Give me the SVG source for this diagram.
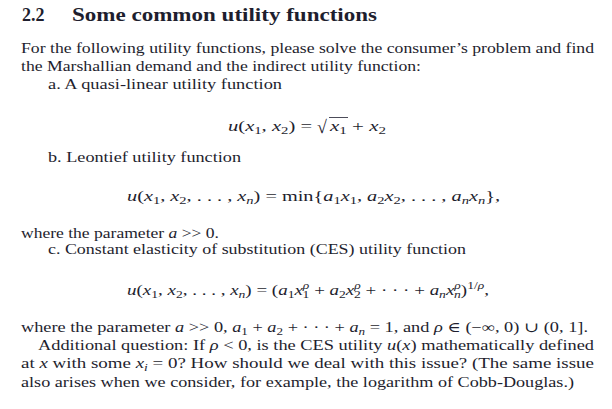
<svg xmlns="http://www.w3.org/2000/svg" width="612" height="409" viewBox="0 0 612 409">
<style>
text{font-family:"Liberation Serif","DejaVu Serif",serif;font-size:14px;fill:#1e1e2e}
.h{font-weight:bold;font-size:18px}
.i{font-style:italic}
.s{font-size:10px}
</style>
<rect width="612" height="409" fill="#fff"/>
<text class="h" x="22" y="21">2.2</text>
<text class="h" x="72" y="21" textLength="305" lengthAdjust="spacingAndGlyphs">Some common utility functions</text>
<text x="21" y="53" textLength="573" lengthAdjust="spacingAndGlyphs">For the following utility functions, please solve the consumer’s problem and find</text>
<text x="21" y="71" textLength="400" lengthAdjust="spacingAndGlyphs">the Marshallian demand and the indirect utility function:</text>
<text x="48" y="89" textLength="234" lengthAdjust="spacingAndGlyphs">a. A quasi-linear utility function</text>
<text x="228" y="131" style="font-size:14px" textLength="84" lengthAdjust="spacingAndGlyphs"><tspan class="i">u</tspan>(<tspan class="i">x</tspan><tspan class="s" dy="3">1</tspan><tspan dy="-3">, </tspan><tspan class="i">x</tspan><tspan class="s" dy="3">2</tspan><tspan dy="-3">) =</tspan></text>
<text x="317" y="133" style="font-size:18px">√</text>
<line x1="329" y1="117.5" x2="348" y2="117.5" stroke="#1e1e2e" stroke-width="0.8"/>
<text x="330" y="131" style="font-size:14px" textLength="56" lengthAdjust="spacingAndGlyphs"><tspan class="i">x</tspan><tspan class="s" dy="3">1</tspan><tspan dy="-3"> + </tspan><tspan class="i">x</tspan><tspan class="s" dy="3">2</tspan></text>
<text x="48" y="162" textLength="193" lengthAdjust="spacingAndGlyphs">b. Leontief utility function</text>
<text x="127" y="201" textLength="373" lengthAdjust="spacingAndGlyphs"><tspan class="i">u</tspan>(<tspan class="i">x</tspan><tspan class="s" dy="3">1</tspan><tspan dy="-3">, </tspan><tspan class="i">x</tspan><tspan class="s" dy="3">2</tspan><tspan dy="-3">, . . . , </tspan><tspan class="i">x<tspan class="s" dy="3">n</tspan></tspan><tspan dy="-3">) = min{</tspan><tspan class="i">a</tspan><tspan class="s" dy="3">1</tspan><tspan class="i" dy="-3">x</tspan><tspan class="s" dy="3">1</tspan><tspan dy="-3">, </tspan><tspan class="i">a</tspan><tspan class="s" dy="3">2</tspan><tspan class="i" dy="-3">x</tspan><tspan class="s" dy="3">2</tspan><tspan dy="-3">, . . . , </tspan><tspan class="i">a<tspan class="s" dy="3">n</tspan></tspan><tspan class="i" dy="-3">x<tspan class="s" dy="3">n</tspan></tspan><tspan dy="-3">},</tspan></text>
<text x="21" y="238" textLength="198" lengthAdjust="spacingAndGlyphs">where the parameter <tspan class="i">a</tspan> &gt;&gt; 0.</text>
<text x="48" y="254" textLength="418" lengthAdjust="spacingAndGlyphs">c. Constant elasticity of substitution (CES) utility function</text>
<text x="127" y="295" textLength="362" lengthAdjust="spacingAndGlyphs"><tspan class="i">u</tspan>(<tspan class="i">x</tspan><tspan class="s" dy="3">1</tspan><tspan dy="-3">, </tspan><tspan class="i">x</tspan><tspan class="s" dy="3">2</tspan><tspan dy="-3">, . . . , </tspan><tspan class="i">x<tspan class="s" dy="3">n</tspan></tspan><tspan dy="-3">) = (</tspan><tspan class="i">a</tspan><tspan class="s" dy="3">1</tspan><tspan class="i" dy="-3">x</tspan><tspan class="s i" dy="-6">ρ</tspan><tspan class="s" dx="-5" dy="9">1</tspan><tspan dy="-3"> + </tspan><tspan class="i">a</tspan><tspan class="s" dy="3">2</tspan><tspan class="i" dy="-3">x</tspan><tspan class="s i" dy="-6">ρ</tspan><tspan class="s" dx="-5" dy="9">2</tspan><tspan dy="-3"> + · · · + </tspan><tspan class="i">a<tspan class="s" dy="3">n</tspan></tspan><tspan class="i" dy="-3">x</tspan><tspan class="s i" dy="-6">ρ</tspan><tspan class="s i" dx="-5" dy="9">n</tspan><tspan dy="-3">)</tspan><tspan class="s" dy="-6">1/<tspan class="i">ρ</tspan></tspan><tspan dy="6">,</tspan></text>
<text x="21" y="332" textLength="567" lengthAdjust="spacingAndGlyphs">where the parameter <tspan class="i">a</tspan> &gt;&gt; 0, <tspan class="i">a</tspan><tspan class="s" dy="3">1</tspan><tspan dy="-3"> + </tspan><tspan class="i">a</tspan><tspan class="s" dy="3">2</tspan><tspan dy="-3"> + · · · + </tspan><tspan class="i">a<tspan class="s" dy="3">n</tspan></tspan><tspan dy="-3"> = 1, and </tspan><tspan class="i">ρ</tspan> ∈ (−∞, 0) ∪ (0, 1].</text>
<text x="38" y="350" textLength="556" lengthAdjust="spacingAndGlyphs">Additional question: If <tspan class="i">ρ</tspan> &lt; 0, is the CES utility <tspan class="i">u</tspan>(<tspan class="i">x</tspan>) mathematically defined</text>
<text x="21" y="368" textLength="573" lengthAdjust="spacingAndGlyphs">at <tspan class="i">x</tspan> with some <tspan class="i">x</tspan><tspan class="s i" dy="3">i</tspan><tspan dy="-3"> = 0? How should we deal with this issue? (The same issue</tspan></text>
<text x="21" y="387" textLength="553" lengthAdjust="spacingAndGlyphs">also arises when we consider, for example, the logarithm of Cobb-Douglas.)</text>
</svg>
